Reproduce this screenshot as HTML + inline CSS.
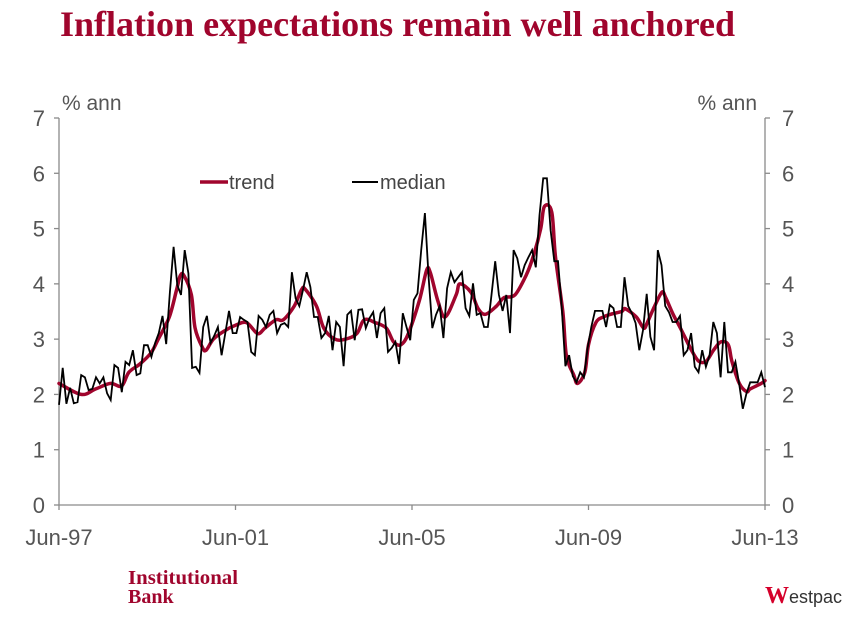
<!DOCTYPE html>
<html><head><meta charset="utf-8"><style>
body{margin:0;background:#fff;width:849px;height:613px;overflow:hidden;font-family:"Liberation Sans",sans-serif}
</style></head><body>
<svg id="chart" width="849" height="613" xmlns="http://www.w3.org/2000/svg">
<text x="60" y="36" font-family="Liberation Serif,serif" font-weight="bold" font-size="36" fill="#a0052d" textLength="675" lengthAdjust="spacingAndGlyphs">Inflation expectations remain well anchored</text>
<text x="62" y="110" font-size="21" fill="#555">% ann</text>
<text x="757" y="110" font-size="21" fill="#555" text-anchor="end">% ann</text>
<g id="axes"></g>
<g id="series"></g>
<g>
<line x1="200" y1="182" x2="228" y2="182" stroke="#a0052d" stroke-width="3.5"/>
<text x="229" y="189" font-size="20" fill="#444">trend</text>
<line x1="352" y1="182" x2="378" y2="182" stroke="#000" stroke-width="2"/>
<text x="380" y="189" font-size="20" fill="#444">median</text>
</g>
<text font-family="Liberation Serif,serif" font-weight="bold" font-size="20" fill="#a0052d"><tspan x="128" y="584" textLength="110" lengthAdjust="spacingAndGlyphs">Institutional</tspan><tspan x="128" y="603">Bank</tspan></text>
<g>
<text x="765" y="603" font-family="Liberation Serif,serif" font-weight="bold" font-size="24" fill="#d5002b">W</text>
<text x="789" y="603" font-size="18" fill="#333">estpac</text>
</g>
</svg>
<script>
const median=[1.81,2.48,1.83,2.12,1.84,1.86,2.35,2.31,2.08,2.1,2.31,2.2,2.31,2.02,1.9,2.53,2.48,2.04,2.59,2.53,2.8,2.35,2.38,2.89,2.89,2.68,2.93,3.11,3.42,2.91,3.85,4.67,3.98,3.8,4.61,4.19,2.48,2.5,2.39,3.22,3.42,2.93,3.06,3.22,2.71,3.11,3.51,3.11,3.11,3.4,3.35,3.31,2.77,2.71,3.42,3.35,3.22,3.44,3.51,3.11,3.26,3.29,3.22,4.21,
3.74,3.6,3.89,4.21,3.94,3.4,3.4,3.02,3.11,3.42,2.8,3.31,3.22,2.51,3.44,3.51,2.98,3.53,3.54,3.2,3.38,3.49,3.02,3.47,3.56,2.77,2.84,2.95,2.55,3.47,3.22,2.98,3.71,3.83,4.61,5.28,4.12,3.2,3.44,3.6,3.02,3.92,4.21,4.03,4.12,4.21,3.56,3.42,4.01,3.44,3.47,3.22,3.22,3.8,4.41,3.8,3.51,3.8,3.11,4.61,4.46,4.12,4.34,4.48,
4.61,4.3,5.24,5.91,5.91,4.97,4.41,4.41,3.58,2.51,2.71,2.33,2.22,2.4,2.31,2.84,3.22,3.51,3.51,3.51,3.22,3.62,3.56,3.22,3.22,4.12,3.6,3.47,3.29,2.8,3.16,3.82,3.04,2.8,4.61,4.34,3.6,3.49,3.31,3.31,3.42,2.71,2.8,3.11,2.5,2.4,2.8,2.5,2.71,3.31,3.11,2.31,3.31,2.4,2.4,2.59,2.2,1.74,2.02,2.22,2.22,2.22,2.4,2.13];
const trendMonths=[0,6,10,14,17,19,22,25,27,30,32,33,34,36,37,39,40,42,45,48,51,54,56,59,61,64,66,67,70,72,75,78,81,83,86,89,91,93,95,98,100,101,103,105,108,109,112,114,116,119,121,124,127,129,131,132,134,135,137,138,140,141,143,144,146,148,150,153,154,157,159,160,162,164,165,167,169,172,174,176,178,180,182,183,185,187,188,191,192];
const trendValues=[2.2,2.0,2.1,2.2,2.15,2.4,2.55,2.75,3.0,3.4,3.9,4.15,4.15,3.8,3.2,2.85,2.8,3.0,3.15,3.25,3.3,3.1,3.2,3.35,3.35,3.6,3.9,3.9,3.6,3.2,3.0,3.0,3.1,3.35,3.3,3.2,2.95,2.9,3.1,3.7,4.25,4.2,3.7,3.4,3.8,4.0,3.85,3.55,3.45,3.6,3.75,3.8,4.15,4.5,5.0,5.4,5.3,4.5,3.5,2.7,2.35,2.2,2.4,2.9,3.3,3.4,3.45,3.5,3.55,3.4,3.2,3.3,3.6,3.85,3.75,3.45,3.2,2.8,2.6,2.6,2.8,2.95,2.9,2.6,2.2,2.05,2.1,2.2,2.25];
const yTicks=[0,1,2,3,4,5,6,7];
const xTickLabels=["Jun-97","Jun-01","Jun-05","Jun-09","Jun-13"];
const xTickMonths=[0,48,96,144,192];
const NS="http://www.w3.org/2000/svg";
const L=59,R=765,B=505,T=118,totalMonths=192;
const xs=m=>L+(R-L)*m/totalMonths;
const ys=v=>B-(B-T)*v/7;
function mk(tag,attrs,parent){const e=document.createElementNS(NS,tag);for(const k in attrs)e.setAttribute(k,attrs[k]);parent.appendChild(e);return e;}
const ax=document.getElementById('axes'),se=document.getElementById('series');
let e;
e=mk('line',{x1:L,y1:T,x2:L,y2:B,stroke:'#8a8a8a','stroke-width':1.3},ax);


e=mk('line',{x1:R,y1:T,x2:R,y2:B,stroke:'#8a8a8a','stroke-width':1.3},ax);


e=mk('line',{x1:L,y1:B,x2:R,y2:B,stroke:'#8a8a8a','stroke-width':1.3},ax);


yTicks.forEach(v=>{
 const y=ys(v);
 mk('line',{x1:L-5,y1:y,x2:L,y2:y,stroke:'#8a8a8a','stroke-width':1.3},ax);
 mk('line',{x1:R,y1:y,x2:R+5,y2:y,stroke:'#8a8a8a','stroke-width':1.3},ax);
 e=mk('text',{x:L-14,y:y+8,'font-size':22,fill:'#555','text-anchor':'end'},ax);e.textContent=v;
 
 
 e=mk('text',{x:R+17,y:y+8,'font-size':22,fill:'#555'},ax);e.textContent=v;
 
 
});
xTickMonths.forEach((m,i)=>{
 const x=xs(m);
 mk('line',{x1:x,y1:B,x2:x,y2:B+5,stroke:'#8a8a8a','stroke-width':1.3},ax);
 e=mk('text',{x:x,y:545,'font-size':22,fill:'#555','text-anchor':'middle'},ax);e.textContent=xTickLabels[i];
 
 
});
const pts=trendMonths.map((m,i)=>[xs(m),ys(trendValues[i])]);
let d='M'+pts[0][0].toFixed(1)+','+pts[0][1].toFixed(1);
for(let i=0;i<pts.length-1;i++){
 const p0=pts[Math.max(0,i-1)],p1=pts[i],p2=pts[i+1],p3=pts[Math.min(pts.length-1,i+2)];
 const c1=[p1[0]+(p2[0]-p0[0])/6,p1[1]+(p2[1]-p0[1])/6],c2=[p2[0]-(p3[0]-p1[0])/6,p2[1]-(p3[1]-p1[1])/6];
 d+=' C'+c1.map(v=>v.toFixed(1)).join(',')+' '+c2.map(v=>v.toFixed(1)).join(',')+' '+p2.map(v=>v.toFixed(1)).join(',');
}
e=mk('path',{d:d,fill:'none',stroke:'#a0052d','stroke-width':3.5,'stroke-linejoin':'round','stroke-linecap':'round'},se);


const n=median.length;
const mp=median.map((v,i)=>xs(i*totalMonths/(n-1)).toFixed(1)+','+ys(v).toFixed(1)).join(' ');
e=mk('polyline',{points:mp,fill:'none',stroke:'#000','stroke-width':1.8,'stroke-linejoin':'miter'},se);


</script>
</body></html>
